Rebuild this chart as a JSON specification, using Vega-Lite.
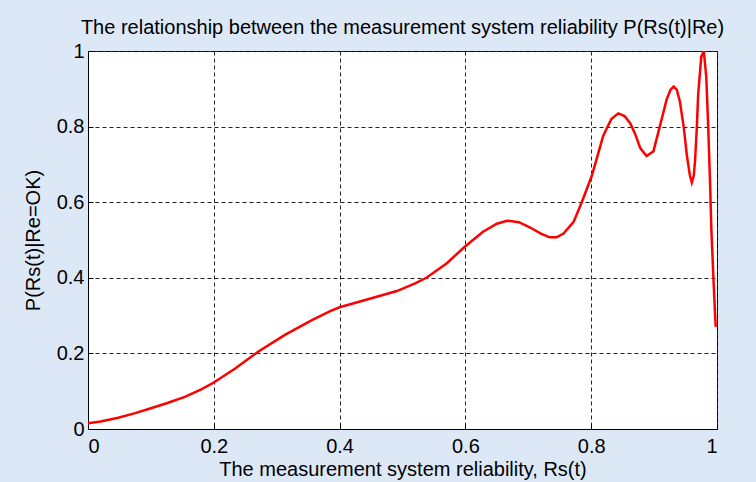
{
  "$schema": "https://vega.github.io/schema/vega-lite/v6.json",
  "autosize": "none",
  "width": 629,
  "height": 378,
  "padding": {"left": 88, "top": 51, "right": 39, "bottom": 53},
  "background": "#dde8f7",
  "title": {
    "text": "The relationship between the measurement system reliability P(Rs(t)|Re)",
    "font": "Liberation Sans",
    "fontSize": 20,
    "fontWeight": "normal",
    "color": "#000000",
    "anchor": "middle",
    "offset": 3
  },
  "config": {
    "view": {"stroke": "#000000", "strokeWidth": 1, "fill": "#ffffff"},
    "axis": {
      "labelFont": "Liberation Sans",
      "labelFontSize": 20,
      "labelColor": "#000000",
      "titleFont": "Liberation Sans",
      "titleFontSize": 20,
      "titleFontWeight": "normal",
      "titleColor": "#000000",
      "domainColor": "#000000",
      "tickColor": "#000000",
      "grid": true,
      "gridColor": "#222222",
      "gridOpacity": 1,
      "gridDash": [4, 3],
      "gridWidth": 1
    }
  },
  "data": {
    "values": [
      {"x": 0, "y": 0.015},
      {"x": 0.02, "y": 0.02},
      {"x": 0.048, "y": 0.03},
      {"x": 0.075, "y": 0.042},
      {"x": 0.1, "y": 0.055},
      {"x": 0.125, "y": 0.068},
      {"x": 0.154, "y": 0.085},
      {"x": 0.18, "y": 0.105},
      {"x": 0.2, "y": 0.123},
      {"x": 0.234, "y": 0.16},
      {"x": 0.271, "y": 0.205},
      {"x": 0.313, "y": 0.249},
      {"x": 0.356, "y": 0.288},
      {"x": 0.385, "y": 0.312},
      {"x": 0.4, "y": 0.322},
      {"x": 0.438, "y": 0.34},
      {"x": 0.491, "y": 0.365},
      {"x": 0.52, "y": 0.385},
      {"x": 0.538, "y": 0.4},
      {"x": 0.57, "y": 0.438},
      {"x": 0.599, "y": 0.482},
      {"x": 0.628, "y": 0.522},
      {"x": 0.65, "y": 0.543},
      {"x": 0.666, "y": 0.551},
      {"x": 0.685, "y": 0.547},
      {"x": 0.703, "y": 0.533},
      {"x": 0.72, "y": 0.517},
      {"x": 0.734, "y": 0.507},
      {"x": 0.745, "y": 0.507},
      {"x": 0.756, "y": 0.517},
      {"x": 0.772, "y": 0.548},
      {"x": 0.785, "y": 0.6},
      {"x": 0.801, "y": 0.67},
      {"x": 0.819, "y": 0.775},
      {"x": 0.832, "y": 0.82},
      {"x": 0.843, "y": 0.835},
      {"x": 0.853, "y": 0.828},
      {"x": 0.862, "y": 0.809},
      {"x": 0.87, "y": 0.78},
      {"x": 0.878, "y": 0.743},
      {"x": 0.888, "y": 0.722},
      {"x": 0.899, "y": 0.735},
      {"x": 0.909, "y": 0.8},
      {"x": 0.92, "y": 0.872},
      {"x": 0.926, "y": 0.897},
      {"x": 0.931, "y": 0.906},
      {"x": 0.936, "y": 0.898},
      {"x": 0.941, "y": 0.866},
      {"x": 0.947, "y": 0.8},
      {"x": 0.952, "y": 0.725},
      {"x": 0.957, "y": 0.67},
      {"x": 0.96, "y": 0.652},
      {"x": 0.963, "y": 0.67},
      {"x": 0.965, "y": 0.707},
      {"x": 0.968, "y": 0.8},
      {"x": 0.97, "y": 0.884},
      {"x": 0.975, "y": 0.985},
      {"x": 0.979, "y": 1.0},
      {"x": 0.983, "y": 0.93},
      {"x": 0.986, "y": 0.8},
      {"x": 0.989, "y": 0.65},
      {"x": 0.991, "y": 0.53},
      {"x": 0.994, "y": 0.41},
      {"x": 0.997, "y": 0.3},
      {"x": 0.998, "y": 0.27}
    ]
  },
  "mark": {"type": "line", "color": "#ff0000", "strokeWidth": 2.5, "clip": true},
  "encoding": {
    "x": {
      "field": "x",
      "type": "quantitative",
      "scale": {"domain": [0, 1], "nice": false, "zero": false},
      "axis": {
        "title": "The measurement system reliability, Rs(t)",
        "values": [0, 0.2, 0.4, 0.6, 0.8, 1],
        "format": "~g",
        "tickSize": -5,
        "labelPadding": 12,
        "titlePadding": 3
      }
    },
    "y": {
      "field": "y",
      "type": "quantitative",
      "scale": {"domain": [0, 1], "nice": false, "zero": false},
      "axis": {
        "title": "P(Rs(t)|Re=OK)",
        "values": [0, 0.2, 0.4, 0.6, 0.8, 1],
        "format": "~g",
        "tickSize": -5,
        "labelPadding": 9,
        "titlePadding": 13
      }
    }
  }
}
